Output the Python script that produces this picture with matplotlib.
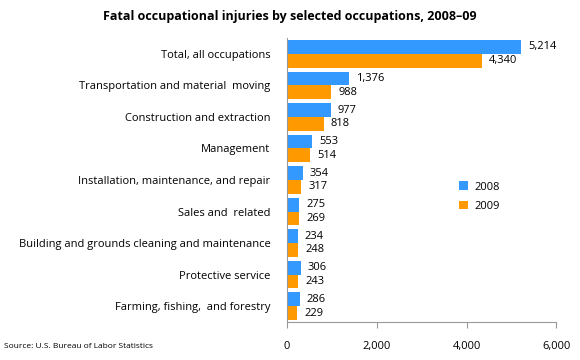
import numpy as np
import matplotlib
matplotlib.use("Agg")
import matplotlib.pyplot as plt

plt.rcParams['font.family'] = ['Open Sans', 'DejaVu Sans']

categories = [
    "Total, all occupations",
    "Transportation and material  moving",
    "Construction and extraction",
    "Management",
    "Installation, maintenance, and repair",
    "Sales and  related",
    "Building and grounds cleaning and maintenance",
    "Protective service",
    "Farming, fishing,  and forestry",
]
vals_2008 = [5214, 1376, 977, 553, 354, 275, 234, 306, 286]
vals_2009 = [4340, 988, 818, 514, 317, 269, 248, 243, 229]
xticks = [0, 2000, 4000, 6000]

blue = "#3399ff"
orange = "#ff9900"

fig = plt.figure(figsize=(5.8, 3.6), dpi=100)
ax = fig.add_axes([0.495, 0.106, 0.464, 0.788])

y = np.arange(len(categories))
h = 0.44
b1 = ax.barh(y - h / 2, vals_2008, height=h, color=blue, label="2008")
b2 = ax.barh(y + h / 2, vals_2009, height=h, color=orange, label="2009")

for rect, v in zip(b1, vals_2008):
    ax.annotate(f"{v:,}", (rect.get_width(), rect.get_y() + rect.get_height() / 2),
                xytext=(5, 0), textcoords="offset points", va="center", fontsize=8)
for rect, v in zip(b2, vals_2009):
    ax.annotate(f"{v:,}", (rect.get_width(), rect.get_y() + rect.get_height() / 2),
                xytext=(5, 0), textcoords="offset points", va="center", fontsize=8)

ax.set_ylim(len(categories) - 0.5, -0.5)
ax.set_xlim(0, 6000)
ax.set_yticks(y)
ax.set_yticklabels(categories, fontsize=8)
ax.tick_params(axis="y", length=0, pad=12)
ax.set_xticks(xticks)
ax.set_xticklabels([f"{t:,}" for t in xticks], fontsize=8)
ax.tick_params(axis="x", direction="out", length=4, pad=10, color="#999999")

for s in ["top", "right"]:
    ax.spines[s].set_visible(False)
ax.spines["left"].set_color("#999999")
ax.spines["bottom"].set_color("#999999")

ax.legend(loc="upper left", bbox_to_anchor=(0.602, 0.53), frameon=False,
          fontsize=8, handlelength=0.8, handleheight=0.8, handletextpad=0.6,
          labelspacing=0.75)

fig.text(0.5, 0.955, "Fatal occupational injuries by selected occupations, 2008\u201309",
         ha="center", va="center", fontsize=9, fontweight="bold")
fig.text(0.007, 0.038, "Source: U.S. Bureau of Labor Statistics", fontsize=6,
         va="center")

fig.savefig("out.png", dpi=100)
